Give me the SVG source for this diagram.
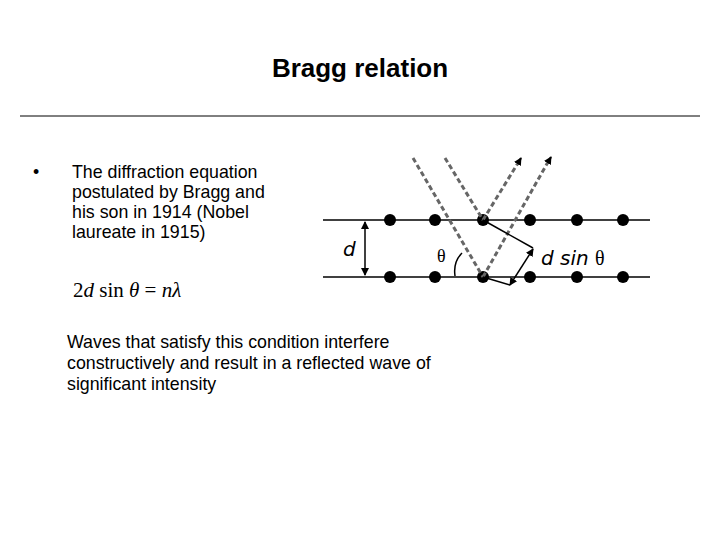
<svg xmlns="http://www.w3.org/2000/svg" width="720" height="540" viewBox="0 0 720 540">
<defs>
<style>
.t{font-family:"Liberation Sans",Arial,sans-serif;font-size:17.8px;fill:#000}
.ln{stroke:#000;stroke-width:1.5;fill:none}
.ds{stroke:#666;stroke-width:3;stroke-dasharray:5,3;fill:none}
.dot{fill:#000}
.lbl{font-family:"DejaVu Sans",sans-serif;font-size:20px;fill:#000;font-style:italic}
</style>
<marker id="ah" markerWidth="8" markerHeight="8" refX="7" refY="4" orient="auto-start-reverse" markerUnits="userSpaceOnUse"><path d="M0,0 L8,4 L0,8 z" fill="#000"/></marker>
</defs>
<rect width="720" height="540" fill="#fff"/>
<g id="title"><text x="360" y="77" text-anchor="middle" style="font-family:'Liberation Sans',Arial,sans-serif;font-size:26px;font-weight:bold">Bragg relation</text>
<line x1="20" y1="116" x2="700" y2="116" stroke="#000" stroke-width="1"/></g>
<g id="bullet">
<text class="t" x="33" y="178">•</text>
<text class="t" x="72" y="178">The diffraction equation</text>
<text class="t" x="72" y="198">postulated by Bragg and</text>
<text class="t" x="72" y="218">his son in 1914 (Nobel</text>
<text class="t" x="72" y="238">laureate in 1915)</text>
</g>
<g id="equation"><text x="73" y="297" font-family="'Liberation Serif',serif" font-size="21">2<tspan font-style="italic">d</tspan> sin <tspan font-style="italic">θ</tspan> = <tspan font-style="italic">nλ</tspan></text></g>
<g id="note">
<text class="t" x="67" y="348">Waves that satisfy this condition interfere</text>
<text class="t" x="67" y="369">constructively and result in a reflected wave of</text>
<text class="t" x="67" y="390">significant intensity</text>
</g>
<g id="lattice">
<line class="ln" x1="323" y1="220" x2="650" y2="220"/>
<line class="ln" x1="323" y1="277" x2="650" y2="277" stroke-width="2"/>
<g class="dot">
<circle cx="390" cy="220" r="6"/><circle cx="435" cy="220" r="6"/><circle cx="483" cy="220" r="6"/><circle cx="530" cy="220" r="6"/><circle cx="577" cy="220" r="6"/><circle cx="623" cy="220" r="6"/>
<circle cx="390" cy="277" r="6"/><circle cx="435" cy="277" r="6"/><circle cx="483" cy="277" r="6"/><circle cx="530" cy="277" r="6"/><circle cx="577" cy="277" r="6"/><circle cx="623" cy="277" r="6"/>
</g>
</g>
<g id="connectors">
<line class="ds" x1="413" y1="158" x2="483" y2="277"/>
<line class="ds" x1="445" y1="158" x2="483" y2="220"/>
<line class="ds" x1="483" y1="277" x2="548" y2="162"/>
<line class="ds" x1="483" y1="220" x2="518" y2="163"/>
<line x1="548" y1="162" x2="551" y2="157" stroke="#000" stroke-width="2" marker-end="url(#ah)"/>
<line x1="518" y1="163" x2="521" y2="158" stroke="#000" stroke-width="2" marker-end="url(#ah)"/>
<line class="ln" x1="483" y1="220" x2="533" y2="248"/>
<line class="ln" x1="483" y1="277" x2="510" y2="285"/>
<line class="ln" x1="510" y1="285" x2="533" y2="249" marker-start="url(#ah)" marker-end="url(#ah)"/>
<line class="ln" x1="365" y1="222" x2="365" y2="275" marker-start="url(#ah)" marker-end="url(#ah)"/>
<path class="ln" d="M455,276 Q453,262 462,253"/>
</g>
<g id="labels">
<text class="lbl" x="343" y="256">d</text>
<text x="437" y="262" font-family="'Liberation Serif',serif" font-size="18">θ</text>
<text class="lbl" x="541" y="265">d sin <tspan font-style="normal" font-family="'Liberation Serif',serif">θ</tspan></text>
</g>
</svg>
